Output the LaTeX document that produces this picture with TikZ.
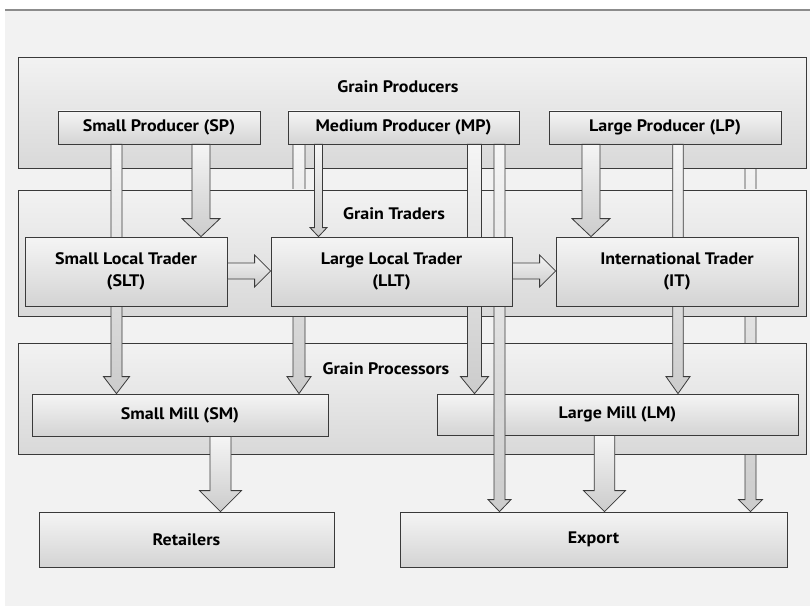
\documentclass[tikz,border=0pt]{standalone}
\usepackage{fontspec}
\setmainfont{PT Sans}[FakeStretch=1.08]
\usetikzlibrary{calc}

\definecolor{bggray}{HTML}{F2F2F2}
\definecolor{edgegray}{HTML}{3A3A3A}

\pgfdeclarelayer{bg}
\pgfdeclarelayer{low}
\pgfdeclarelayer{hid}
\pgfdeclarelayer{mid}
\pgfdeclarelayer{flow}
\pgfsetlayers{bg,low,hid,mid,flow,main}

\tikzset{
  panel/.style={draw=edgegray,line width=0.6pt,top color=bggray,bottom color=black!15,
    minimum width=591pt,inner sep=0pt},
  box/.style={draw=edgegray,line width=0.6pt,top color=white!96!black,bottom color=black!17,
    inner sep=0pt,align=center,font=\fontsize{12.5}{17}\selectfont\bfseries},
  title/.style={inner sep=0pt,font=\fontsize{12.5}{17}\selectfont\bfseries},
  blk/.style={draw=edgegray,line width=0.6pt,top color=white!96!black,bottom color=black!20,line join=miter}
}

% block arrow downwards: from, to, column, shaft half width, head half width, head length
\newcommand{\flowdown}[6]{%
  \path[blk] ($(#1.south -| #3)+(-#4,0)$) -- ($(#2.north -| #3)+(-#4,-#6)$)
    -- ($(#2.north -| #3)+(-#5,-#6)$) -- (#2.north -| #3)
    -- ($(#2.north -| #3)+(#5,-#6)$) -- ($(#2.north -| #3)+(#4,-#6)$)
    -- ($(#1.south -| #3)+(#4,0)$) -- cycle;}
% block arrow to the right: from, to, row, shaft half width, head half width, head length
\newcommand{\flowright}[6]{%
  \path[blk] ($(#1.east |- #3)+(0,-#4)$) -- ($(#2.west |- #3)+(-#6,-#4)$)
    -- ($(#2.west |- #3)+(-#6,-#5)$) -- (#2.west |- #3)
    -- ($(#2.west |- #3)+(-#6,#5)$) -- ($(#2.west |- #3)+(-#6,#4)$)
    -- ($(#1.east |- #3)+(0,#4)$) -- cycle;}

\begin{document}
\begin{tikzpicture}[x=0.75pt,y=-0.75pt]
	\useasboundingbox (0,0) rectangle (810,606);

	% The columns and rows of the flows
	\foreach \n/\x in {a/116.5,b/201,c/299,d/318.5,e/474.5,f/499.5,g/591,h/678,i/750.5,j/604.5,k/220.5}
		\coordinate (col\n) at (\x,0);
	\coordinate (row) at (0,271);

	% The background
	\begin{pgfonlayer}{bg}
		\fill[bggray] (5,10) rectangle (810,606);
		\draw[black!45,line width=0.8pt] (5,10) -- (810,10);
	\end{pgfonlayer}

	% The panels and the lower boxes
	\begin{pgfonlayer}{low}
		\node[panel,minimum height=83.25pt] (prod) at (412,112.5) {};
		\node[panel,minimum height=83.25pt] (proc) at (412,398.5) {};
		\node[box,minimum width=222pt,minimum height=31.5pt] (SM) at (180,415) {Small Mill (SM)};
		\node[box,minimum width=270.75pt,minimum height=30.75pt] (LM) at (617.5,414.5) {Large Mill (LM)};
		\node[box,minimum width=221.25pt,minimum height=41.25pt] (RET) at (186.5,539.5) {Retailers};
		\node[box,minimum width=290.25pt,minimum height=41.25pt] (EXP) at (593.5,539.5) {Export};
		\node[title] (tprod) at (398,87) {Grain Producers};
		\node[title] (tproc) at (386,369) {Grain Processors};
	\end{pgfonlayer}
	\begin{pgfonlayer}{mid}
		\node[panel,minimum height=94.5pt] (trad) at (412,253) {};
		\node[title] (ttrad) at (394,213.5) {Grain Traders};
	\end{pgfonlayer}

	% The producers
	\begin{pgfonlayer}{flow}
		\node[box,minimum width=151.5pt,minimum height=24.75pt] (SP) at (159,127.5) {Small Producer (SP)};
		\node[box,minimum width=173.25pt,minimum height=24.75pt] (MP) at (403.5,127.5) {Medium Producer (MP)};
		\node[box,minimum width=174pt,minimum height=24.75pt] (LP) at (665,127.5) {Large Producer (LP)};
	\end{pgfonlayer}

	% The traders
	\node[box,minimum width=151.5pt,minimum height=51.75pt] (SLT) at (126,271.5) {Small Local Trader\\(SLT)};
	\node[box,minimum width=180.75pt,minimum height=51.75pt] (LLT) at (391.5,271.5) {Large Local Trader\\(LLT)};
	\node[box,minimum width=181.5pt,minimum height=51.75pt] (IT) at (677,271.5) {International Trader\\(IT)};

	% The flows
	\begin{pgfonlayer}{bg}
		\flowdown{LP}{EXP}{coli}{5.5}{12}{12}
	\end{pgfonlayer}
	\begin{pgfonlayer}{low}
		\flowdown{SM}{RET}{colk}{10.5}{21}{21}
		\flowdown{LM}{EXP}{colj}{10.3}{21}{21}
	\end{pgfonlayer}
	\begin{pgfonlayer}{hid}
		\flowdown{MP}{SM}{colc}{6}{12}{17}
	\end{pgfonlayer}
	\begin{pgfonlayer}{flow}
		\flowdown{SP}{SM}{cola}{5.5}{13}{17}
		\flowdown{SP}{SLT}{colb}{9}{19}{18}
		\flowdown{MP}{LLT}{cold}{4}{8.5}{9}
		\flowdown{MP}{LM}{cole}{7}{14}{17}
		\flowdown{MP}{EXP}{colf}{5.5}{11.5}{12}
		\flowdown{LP}{IT}{colg}{9}{19}{18}
		\flowdown{LP}{LM}{colh}{5.3}{12}{17}
	\end{pgfonlayer}
	\flowright{SLT}{LLT}{row}{8}{16}{16}
	\flowright{LLT}{IT}{row}{8}{16}{16}
\end{tikzpicture}
\end{document}
